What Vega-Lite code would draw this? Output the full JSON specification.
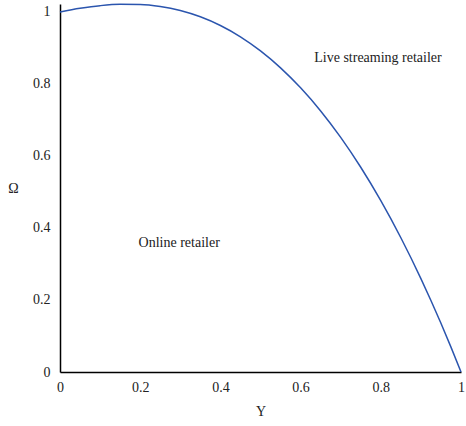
{
  "$schema": "https://vega.github.io/schema/vega-lite/v6.json",
  "autosize": "none",
  "width": 401,
  "height": 368,
  "padding": {"left": 60, "top": 4, "right": 5, "bottom": 54},
  "config": {
    "view": {"stroke": null},
    "font": "Liberation Serif",
    "axis": {"grid": false, "ticks": false, "domainColor": "#000", "domainWidth": 1.5, "labelFont": "Liberation Serif", "labelFontSize": 14, "labelColor": "#222", "titleFont": "Liberation Serif", "titleFontSize": 14, "titleFontWeight": "normal", "titleColor": "#222"}
  },
  "layer": [
    {
      "data": {"values": [
        {"x": 0, "y": 1.0},
        {"x": 0.05, "y": 1.0099},
        {"x": 0.1, "y": 1.0174},
        {"x": 0.15, "y": 1.0212},
        {"x": 0.2, "y": 1.0207},
        {"x": 0.25, "y": 1.0151},
        {"x": 0.3, "y": 1.0039},
        {"x": 0.35, "y": 0.9864},
        {"x": 0.4, "y": 0.9622},
        {"x": 0.45, "y": 0.9308},
        {"x": 0.5, "y": 0.8917},
        {"x": 0.55, "y": 0.8447},
        {"x": 0.6, "y": 0.7892},
        {"x": 0.65, "y": 0.725},
        {"x": 0.7, "y": 0.6515},
        {"x": 0.75, "y": 0.5686},
        {"x": 0.8, "y": 0.4758},
        {"x": 0.85, "y": 0.3729},
        {"x": 0.9, "y": 0.2595},
        {"x": 0.925, "y": 0.1987},
        {"x": 0.95, "y": 0.1353},
        {"x": 0.975, "y": 0.069},
        {"x": 1.0, "y": 0.0}
      ]},
      "mark": {"type": "line", "color": "#2b55ae", "strokeWidth": 1.5, "interpolate": "monotone"},
      "encoding": {
        "x": {"field": "x", "type": "quantitative", "scale": {"domain": [0, 1], "nice": false}, "axis": {"title": "Y", "format": "~g", "values": [0, 0.2, 0.4, 0.6, 0.8, 1], "labelPadding": 8, "titlePadding": 10, "labelFlush": false}},
        "y": {"field": "y", "type": "quantitative", "scale": {"domain": [0, 1.022], "nice": false}, "axis": {"title": "Ω", "format": "~g", "titleAngle": 0, "titleX": -47, "titleY": 184, "titleBaseline": "middle", "values": [0, 0.2, 0.4, 0.6, 0.8, 1], "labelPadding": 10}}
      }
    },
    {
      "data": {"values": [
        {"x": 0.634, "y": 0.872, "label": "Live streaming retailer"},
        {"x": 0.196, "y": 0.359, "label": "Online retailer"}
      ]},
      "mark": {"type": "text", "align": "left", "baseline": "middle", "fontSize": 14, "color": "#222", "font": "Liberation Serif"},
      "encoding": {
        "x": {"field": "x", "type": "quantitative"},
        "y": {"field": "y", "type": "quantitative"},
        "text": {"field": "label"}
      }
    }
  ]
}
